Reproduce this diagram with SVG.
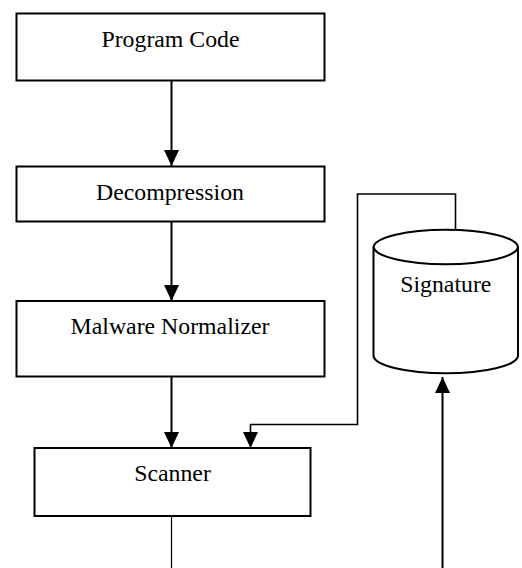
<svg xmlns="http://www.w3.org/2000/svg" width="522" height="568" viewBox="0 0 522 568">
<style>
.box{fill:#fff;stroke:#000;stroke-width:2}
.lbl{font-size:23.8px;fill:#000;text-anchor:middle}
.conn{fill:none;stroke:#000;stroke-width:2}
.thin{fill:none;stroke:#000;stroke-width:1.2}
.fb{fill:none;stroke:#000;stroke-width:1.6}
</style>
<defs>
<marker id="ah" markerUnits="userSpaceOnUse" markerWidth="16" markerHeight="15" refX="16" refY="7.5" orient="auto">
<path d="M0,0 L16,7.5 L0,15 z" fill="#000"/>
</marker>
</defs>
<rect width="522" height="568" fill="#fff"/>
<g id="connectors">
<path class="conn" d="M171.5,81 V166" marker-end="url(#ah)"/>
<path class="conn" d="M171.5,222 V301" marker-end="url(#ah)"/>
<path class="conn" d="M171.5,373 V448" marker-end="url(#ah)"/>
<path class="fb" d="M455.5,229 V194 H357.5 V424.5 H250.5 V448" marker-end="url(#ah)"/>
<path class="conn" d="M442.5,568 V377" marker-end="url(#ah)"/>
<path class="thin" d="M171.5,516 V568"/>
</g>
<g font-family="'Liberation Serif', 'Times New Roman', 'DejaVu Serif', serif">
<g id="program-code">
<rect class="box" x="16.5" y="13.5" width="308" height="67"/>
<text class="lbl" x="170.5" y="46.5">Program Code</text>
</g>
<g id="decompression">
<rect class="box" x="16.5" y="166.5" width="308" height="55"/>
<text class="lbl" x="170" y="199.5">Decompression</text>
</g>
<g id="malware-normalizer">
<rect class="box" x="16.5" y="301" width="308" height="75.5"/>
<text class="lbl" x="170" y="334">Malware Normalizer</text>
</g>
<g id="scanner">
<rect class="box" x="34.5" y="448" width="276" height="68"/>
<text class="lbl" x="172.5" y="481">Scanner</text>
</g>
<g id="signature">
<path class="box" d="M373.5,247 V356 A72.3,18 0 0 0 518,356 V247 A72.3,18 0 0 0 373.5,247 Z"/>
<path class="box" style="fill:none" d="M373.5,247 A72.3,18 0 0 0 518,247"/>
<text class="lbl" x="445.8" y="291.5">Signature</text>
</g>
</g>
</svg>
